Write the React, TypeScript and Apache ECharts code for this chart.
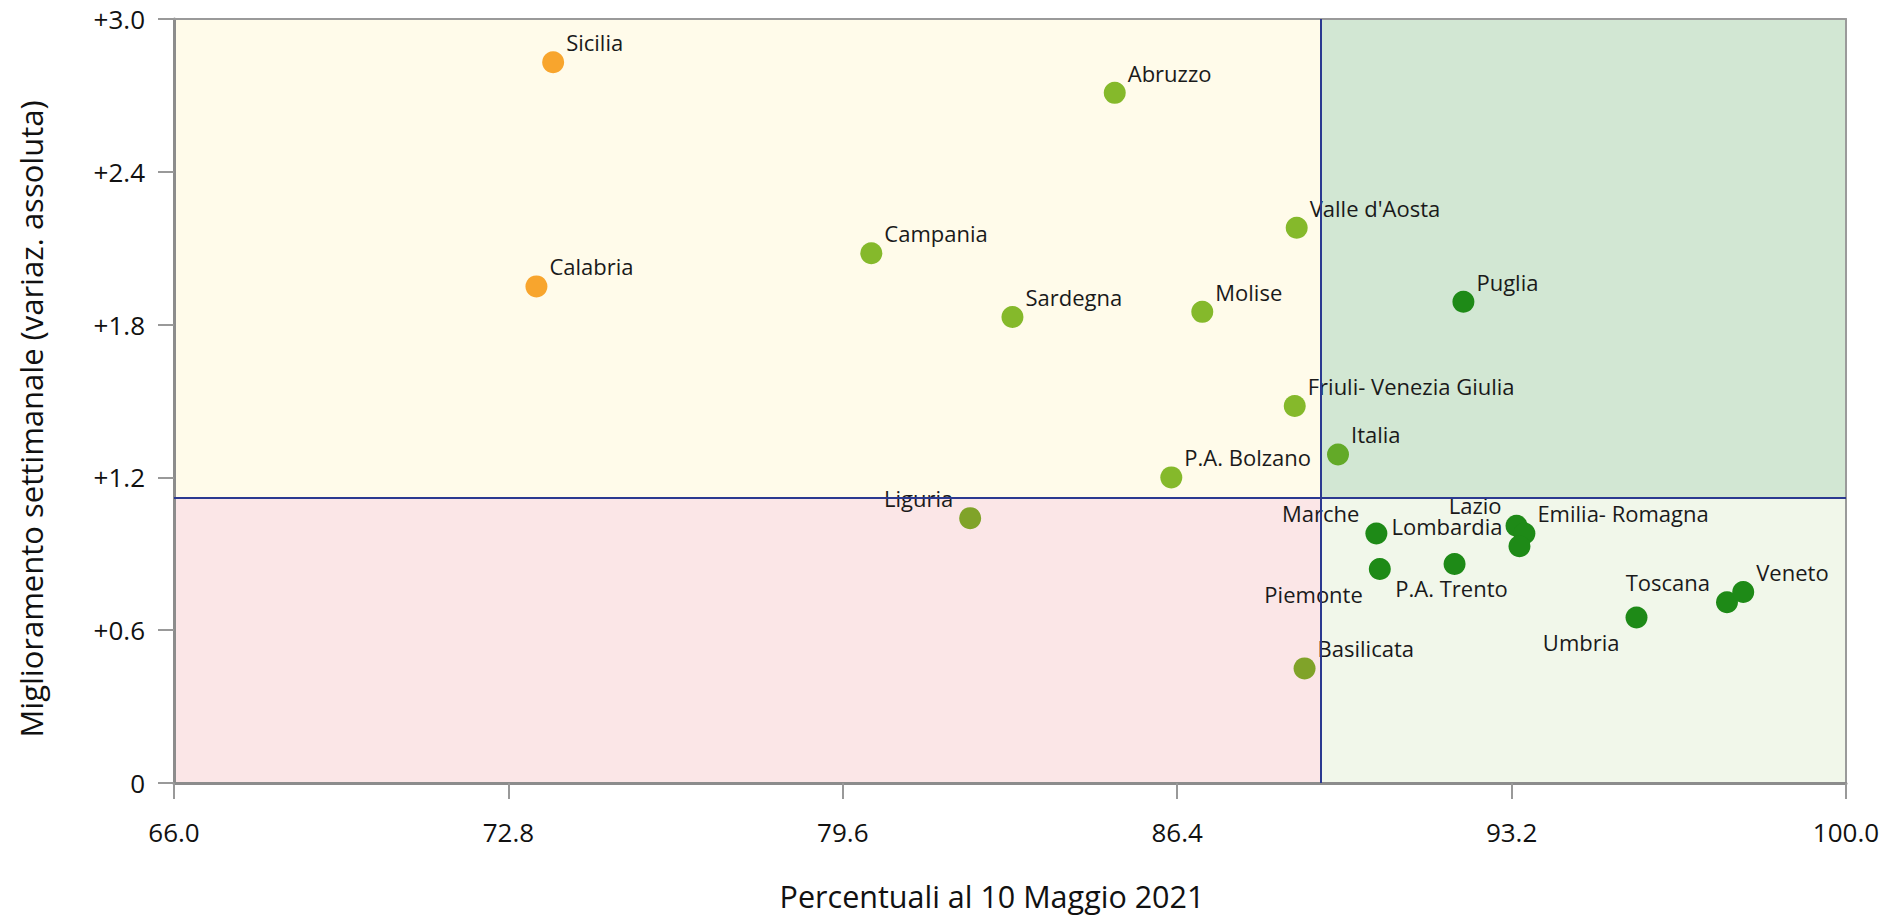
import React, { useEffect, useRef } from "react";
import * as echarts from "echarts";

const regions = [
  "Sicilia", "Calabria", "Abruzzo", "Campania", "Sardegna", "Molise",
  "Valle d'Aosta", "Puglia", "Friuli- Venezia Giulia", "Italia", "P.A. Bolzano",
  "Liguria", "Basilicata", "Marche", "Lazio", "Emilia- Romagna", "Lombardia",
  "Piemonte", "P.A. Trento", "Umbria", "Toscana", "Veneto",
];
const coverage = [
  73.71, 73.37, 85.13, 80.18, 83.05, 86.91,
  88.83, 92.22, 88.79, 89.67, 86.28,
  82.19, 88.99, 90.45, 93.30, 93.46, 93.36,
  90.52, 92.04, 95.74, 97.58, 97.91,
];
const improvement = [
  2.83, 1.95, 2.71, 2.08, 1.83, 1.85,
  2.18, 1.89, 1.48, 1.29, 1.20,
  1.04, 0.45, 0.98, 1.01, 0.98, 0.93,
  0.84, 0.86, 0.65, 0.71, 0.75,
];
const colorGroup = [
  "orange", "orange", "light", "light", "light", "light",
  "light", "dark", "light", "italia", "light",
  "olive", "olive", "dark", "dark", "dark", "dark",
  "dark", "dark", "dark", "dark", "dark",
];
const labelPlacement = [
  "tr", "tr", "tr", "tr", "tr", "tr",
  "tr", "tr", "tr", "tr", "tr",
  "tl", "tr", "tl", "tlh", "tr", "tl",
  "bl", "b", "bl", "tl", "tr",
];
const xMin = 66, xMax = 100, xInterval = 6.8;
const yMin = 0, yMax = 3, yInterval = 0.6;
const thresholdX = 89.31;
const thresholdY = 1.12;
const xTitle = "Percentuali al 10 Maggio 2021";
const yTitle = "Miglioramento settimanale (variaz. assoluta)";

const palette: Record<string, string> = {
  orange: "#f8a52d",
  light: "#85b92b",
  italia: "#63aa28",
  olive: "#80a329",
  dark: "#1e8a17",
};
const placements: Record<string, { dx: number; dy: number; align: string }> = {
  tr: { dx: 13, dy: -20, align: "left" },
  tl: { dx: -17, dy: -20, align: "right" },
  tlh: { dx: -15, dy: -21, align: "right" },
  bl: { dx: -17, dy: 25, align: "right" },
  b: { dx: -3, dy: 24, align: "center" },
};
const FONT = "'Open Sans', 'Noto Sans', sans-serif";
const SYM = 22;

export default function App() {
  const ref = useRef<HTMLDivElement>(null);
  useEffect(() => {
    const chart = echarts.init(ref.current!, null, { renderer: "svg" });
    const data = regions.map((name, i) => {
      const p = placements[labelPlacement[i]];
      return {
        name,
        value: [coverage[i], improvement[i]],
        itemStyle: { color: palette[colorGroup[i]], opacity: 1 },
        label: {
          position: [SYM / 2 + p.dx, SYM / 2 + p.dy],
          align: p.align,
          verticalAlign: "middle",
        },
      };
    });
    const option: any = {
      animation: false,
      backgroundColor: "#ffffff",
      grid: { left: 174, right: 39, top: 19, bottom: 134, containLabel: false },
      xAxis: [
        {
          type: "value", min: xMin, max: xMax, interval: xInterval, position: "bottom", z: 4,
          axisLine: { show: true, onZero: false, lineStyle: { color: "#8c8c8c", width: 3 } },
          axisTick: { show: true, length: 16, lineStyle: { color: "#999999", width: 2 } },
          axisLabel: { margin: 36, fontSize: 26, color: "#111", fontFamily: FONT, formatter: (v: number) => v.toFixed(1) },
          splitLine: { show: false },
        },
        {
          type: "value", min: xMin, max: xMax, position: "top", z: 4,
          axisLine: { show: true, onZero: false, lineStyle: { color: "#9a9a9a", width: 2 } },
          axisTick: { show: false }, axisLabel: { show: false }, splitLine: { show: false },
        },
      ],
      yAxis: [
        {
          type: "value", min: yMin, max: yMax, interval: yInterval, position: "left", z: 4,
          axisLine: { show: true, onZero: false, lineStyle: { color: "#8c8c8c", width: 3 } },
          axisTick: { show: true, length: 16, lineStyle: { color: "#999999", width: 2 } },
          axisLabel: {
            margin: 29, fontSize: 26, color: "#111", fontFamily: FONT, padding: [6, 0, 0, 0],
            formatter: (v: number) => (v === 0 ? "0" : "+" + v.toFixed(1)),
          },
          splitLine: { show: false },
        },
        {
          type: "value", min: yMin, max: yMax, position: "right", z: 4,
          axisLine: { show: true, onZero: false, lineStyle: { color: "#9a9a9a", width: 2 } },
          axisTick: { show: false }, axisLabel: { show: false }, splitLine: { show: false },
        },
      ],
      graphic: [
        {
          type: "text", x: 31, y: 419, rotation: Math.PI / 2,
          style: { text: yTitle, fontSize: 31, fontFamily: FONT, fill: "#111", align: "center", verticalAlign: "middle" },
        },
        {
          type: "text", x: 992, y: 896,
          style: { text: xTitle, fontSize: 30.5, fontFamily: FONT, fill: "#111", align: "center", verticalAlign: "middle" },
        },
      ],
      series: [
        {
          type: "scatter", z: 1, data: [], silent: true,
          markArea: {
            silent: true,
            data: [
              [{ xAxis: xMin, yAxis: thresholdY, itemStyle: { color: "#fffbea", opacity: 1 } }, { xAxis: thresholdX, yAxis: yMax }],
              [{ xAxis: thresholdX, yAxis: thresholdY, itemStyle: { color: "#d2e7d3", opacity: 1 } }, { xAxis: xMax, yAxis: yMax }],
              [{ xAxis: xMin, yAxis: yMin, itemStyle: { color: "#fbe6e7", opacity: 1 } }, { xAxis: thresholdX, yAxis: thresholdY }],
              [{ xAxis: thresholdX, yAxis: yMin, itemStyle: { color: "#f1f7ea", opacity: 1 } }, { xAxis: xMax, yAxis: thresholdY }],
            ],
          },
        },
        {
          type: "scatter", z: 2, symbol: "circle", symbolSize: SYM, data,
          label: { show: true, formatter: "{b}", fontSize: 22, color: "#1a1a1a", fontFamily: FONT },
          emphasis: { disabled: true },
        },
        {
          type: "scatter", z: 6, data: [], silent: true,
          markLine: {
            silent: true, symbol: ["none", "none"],
            label: { show: false },
            lineStyle: { color: "#2b3990", width: 2, type: "solid" },
            data: [{ xAxis: thresholdX }, { yAxis: thresholdY }],
          },
        },
      ],
    };
    chart.setOption(option);
    return () => chart.dispose();
  }, []);
  return (
    <div
      ref={ref}
      style={{ position: "fixed", left: 0, top: 0, width: 1885, height: 917, background: "#fff" }}
    />
  );
}
